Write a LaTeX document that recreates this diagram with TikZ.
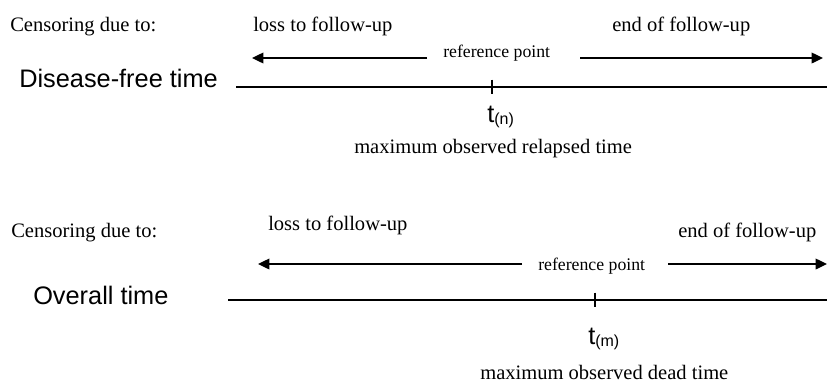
\documentclass[tikz,border=0pt]{standalone}
\usepackage{fontspec}
\setmainfont{Liberation Serif}
\newfontfamily\arialfont{Liberation Sans}
\usetikzlibrary{arrows.meta}

\begin{document}
\begin{tikzpicture}[
	x=0.75pt, y=-0.75pt,
	>={Triangle[length=8.5pt,width=8pt]},
	cens/.style={
		anchor=base west, inner sep=0pt,
		font=\fontsize{15.4}{18}\selectfont
	},
	refpt/.style={
		anchor=base west, inner sep=0pt,
		font=\fontsize{13.3}{16}\selectfont
	},
	axislbl/.style={
		anchor=base west, inner sep=0pt,
		font=\arialfont\fontsize{19}{22}\selectfont
	},
	arr/.style={->, line width=1pt, black},
	axis/.style={line width=1.4pt, black},
	tickmark/.style={line width=1pt, black}
]
\useasboundingbox (0,0) rectangle (827,383);

% Top panel: disease-free time
\node[cens] (cdA)  at ( 10, 31) {Censoring due to:};
\node[cens] (lossA) at (253, 31) {loss to follow-up};
\node[cens] (endA) at (612, 31) {end of follow-up};
\node[refpt] (refA) at (443, 57) {reference point};
\node[axislbl] (dft) at ( 19, 87) {Disease-free time};

\coordinate (aLs) at (427, 58);
\coordinate (aLe) at (252, 58);
\coordinate (aRs) at (580, 58);
\coordinate (aRe) at (823, 58);
\draw[arr] (aLs) -- (aLe);
\draw[arr] (aRs) -- (aRe);

\coordinate (tlAs) at (236, 87);
\coordinate (tlAe) at (827, 87);
\coordinate (tn)   at (492, 87);
\draw[axis] (tlAs) -- (tlAe);
\draw[tickmark] ([yshift=5.6pt]tn) -- ([yshift=-5.6pt]tn);

\node[axislbl] (tnlbl) at (487, 122)
	{t\raisebox{-1.5pt}{\fontsize{12}{12}\selectfont(n)}};
\node[cens] (maxA) at (354, 153) {maximum observed relapsed time};

% Bottom panel: overall time
\node[cens] (cdB)  at ( 11, 237) {Censoring due to:};
\node[cens] (lossB) at (268, 230) {loss to follow-up};
\node[cens] (endB) at (678, 237) {end of follow-up};
\node[refpt] (refB) at (538, 270) {reference point};
\node[axislbl] (ovt) at ( 33, 304) {Overall time};

\coordinate (bLs) at (522, 264);
\coordinate (bLe) at (258, 264);
\coordinate (bRs) at (668, 264);
\coordinate (bRe) at (827, 264);
\draw[arr] (bLs) -- (bLe);
\draw[arr] (bRs) -- (bRe);

\coordinate (tlBs) at (228, 300);
\coordinate (tlBe) at (827, 300);
\coordinate (tm)   at (595, 300);
\draw[axis] (tlBs) -- (tlBe);
\draw[tickmark] ([yshift=5.6pt]tm) -- ([yshift=-5.6pt]tm);

\node[axislbl] (tmlbl) at (588, 344)
	{t\raisebox{-1.5pt}{\fontsize{12}{12}\selectfont(m)}};
\node[cens] (maxB) at (480, 379) {maximum observed dead time};

\end{tikzpicture}
\end{document}
